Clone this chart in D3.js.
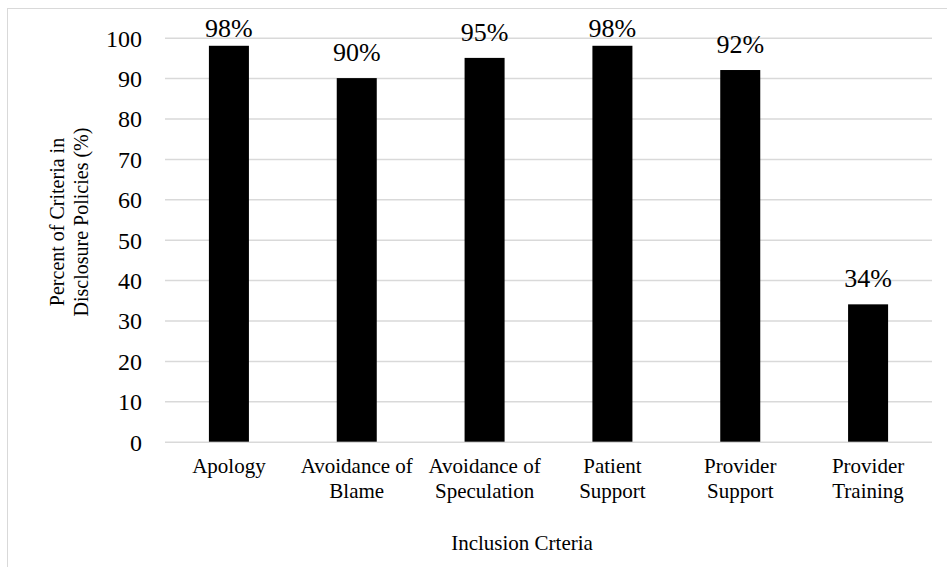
<!DOCTYPE html>
<html><head><meta charset="utf-8">
<script src="https://cdn.jsdelivr.net/npm/d3@7"></script>
<style>body{margin:0;background:#fff}svg{display:block}</style>
</head><body><svg id="c" width="947" height="567" style="font-family:'Liberation Serif','Times New Roman',serif"></svg>
<script>
const categories = [["Apology"],["Avoidance of","Blame"],["Avoidance of","Speculation"],["Patient","Support"],["Provider","Support"],["Provider","Training"]];
const values = [98, 90, 95, 98, 92, 34];
const yTicks = [0,10,20,30,40,50,60,70,80,90,100];
const SERIF = "'Liberation Serif','Times New Roman',serif";

const svg = d3.select("#c");
svg.append("rect").attr("x",7.5).attr("y",8.5).attr("width",950).attr("height",570)
  .attr("fill","none").attr("stroke","#d9d9d9").attr("stroke-width",1);

const L=165, R=932, T=37.7, B=441.7;
const x = d3.scaleBand().domain(categories.map((d,i)=>i)).range([L,R]).paddingInner(0.687).paddingOuter(0.3435);
const y = d3.scaleLinear().domain([0,100]).range([B,T]);

const yAxis = d3.axisLeft(y).tickValues(yTicks).tickSize(-(R-L)).tickPadding(23);
const ga = svg.append("g").attr("transform",`translate(${L},0)`).call(yAxis);
ga.attr("font-family",null);
ga.select(".domain").remove();
ga.selectAll(".tick line").attr("stroke","#d9d9d9").attr("stroke-width",1.5);
ga.selectAll(".tick text").attr("font-size",24).attr("dy","0.35em").style("font-family",SERIF).attr("fill","#000");

svg.append("g").selectAll("rect").data(values).join("rect")
  .attr("x",(d,i)=>x(i)).attr("width",x.bandwidth())
  .attr("y",d=>y(d)).attr("height",d=>y(0)-y(d)).attr("fill","#000");

svg.append("g").selectAll("text").data(values).join("text")
  .attr("x",(d,i)=>x(i)+x.bandwidth()/2).attr("y",d=>Math.max(y(d)-17, T-1))
  .attr("text-anchor","middle").attr("font-size",26).style("font-family",SERIF).text(d=>d+"%");

const cl = svg.append("g").selectAll("text").data(categories).join("text")
  .attr("x",(d,i)=>x(i)+x.bandwidth()/2).attr("y",473)
  .attr("text-anchor","middle").attr("font-size",21).style("font-family",SERIF);
cl.selectAll("tspan").data(d=>d).join("tspan")
  .attr("x",function(){return this.parentNode.getAttribute("x");})
  .attr("dy",(d,j)=>j?25:0).text(d=>d);

const yt = svg.append("text").attr("font-size",20).attr("text-anchor","middle").style("font-family",SERIF);
yt.append("tspan").attr("x",-222).attr("y",64).text("Percent of Criteria in");
yt.append("tspan").attr("x",-222).attr("y",88).text("Disclosure Policies (%)");
yt.attr("transform","rotate(-90)");

svg.append("text").attr("x",522).attr("y",550).attr("text-anchor","middle").attr("font-size",21).style("font-family",SERIF).text("Inclusion Crteria");
</script></body></html>
